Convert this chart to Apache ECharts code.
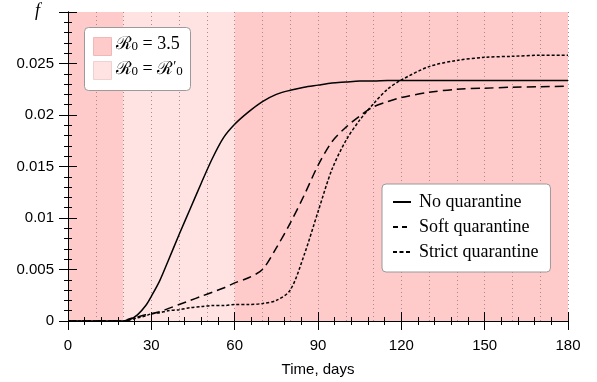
<!DOCTYPE html>
<html>
<head>
<meta charset="utf-8">
<script src="https://cdn.jsdelivr.net/npm/echarts@6/dist/echarts.min.js"></script>
<style>
  html, body { margin: 0; padding: 0; background: #fff; }
  #chart { width: 597px; height: 382px; }
</style>
</head>
<body>
<div id="chart"></div>
<script>
// time axis (days) and fraction f for each scenario
const days = [0, 20, 22, 25, 28, 30, 33, 36, 40, 44, 48, 52, 56, 60, 65, 70, 75, 80, 85, 90, 95, 100, 105, 110, 115, 120, 130, 140, 150, 160, 170, 180]
const noQuarantine = [0, 0, 0.0001, 0.0006, 0.0015, 0.0024, 0.0039, 0.0058, 0.0084, 0.0109, 0.0134, 0.0158, 0.0178, 0.0191, 0.0203, 0.0213, 0.0220, 0.0224, 0.0227, 0.0229, 0.0231, 0.0232, 0.0233, 0.0233, 0.02335, 0.02335, 0.02335, 0.02335, 0.02335, 0.02335, 0.02335, 0.02335]
const softQuarantine = [0, 0, 0.0002, 0.0004, 0.0006, 0.0007, 0.0009, 0.0012, 0.0016, 0.0020, 0.0024, 0.0028, 0.0032, 0.0037, 0.0042, 0.0050, 0.0071, 0.0095, 0.0122, 0.0151, 0.0174, 0.0188, 0.0199, 0.0208, 0.0213, 0.0217, 0.0222, 0.0225, 0.0226, 0.0227, 0.02275, 0.0228]
const strictQuarantine = [0, 0, 0.0001, 0.0003, 0.0005, 0.0007, 0.0008, 0.0010, 0.0011, 0.0013, 0.0014, 0.0015, 0.0015, 0.0016, 0.0016, 0.0017, 0.0020, 0.0030, 0.0064, 0.0106, 0.0147, 0.0175, 0.0195, 0.0211, 0.0225, 0.0234, 0.0247, 0.0253, 0.0256, 0.0257, 0.0258, 0.0258]

const seriesNames = ["No quarantine", "Soft quarantine", "Strict quarantine"]
// R0 phases: [start, end, kind]
const phases = [[0, 20, "base"], [20, 60, "reduced"], [60, 180, "base"]]

const darkPink = "#ffcaca"
const lightPink = "#ffe3e3"
const serif = "'Liberation Serif', 'DejaVu Serif', serif"
const sans = "'Liberation Sans', Arial, sans-serif"

const chart = echarts.init(document.getElementById("chart"), null, { renderer: "canvas" })

const pts = (arr) => days.map((d, i) => [d, arr[i]])

const axisLine = { show: true, lineStyle: { color: "#000", width: 1 } }
const tickStyle = { show: true, length: 9, lineStyle: { color: "#000", width: 1 } }
const minorTick = { show: true, length: 4, lineStyle: { color: "#000", width: 1 } }

const lineSeries = (name, arr, type) => ({
  name,
  type: "line",
  data: pts(arr),
  showSymbol: false,
  symbol: "none",
  smooth: 0.3,
  z: 3,
  itemStyle: { color: "#000" },
  lineStyle: { color: "#000", width: 1.5, type },
})

const first = lineSeries(seriesNames[0], noQuarantine, "solid")
first.markArea = {
  silent: true,
  z: 1,
  data: phases.map(([a, b, kind]) => [
    { xAxis: a, itemStyle: { color: kind === "base" ? darkPink : lightPink, opacity: 1 } },
    { xAxis: b },
  ]),
}

const richR0 = {
  r: { fontFamily: serif, fontSize: 18, fill: "#000", verticalAlign: "bottom" },
  p: { fontFamily: serif, fontSize: 14, fill: "#000", verticalAlign: "top" },
  s: { fontFamily: serif, fontSize: 13, fill: "#000", verticalAlign: "bottom" },
}

chart.setOption({
  animation: false,
  grid: { left: 68, right: 29, top: 12, bottom: 61 },
  xAxis: [
    {
      type: "value", position: "bottom", min: 0, max: 180, interval: 30, z: 4,
      axisLine, axisTick: tickStyle, minorTick: { ...minorTick, splitNumber: 5 },
      splitLine: { show: false },
      axisLabel: { color: "#000", fontFamily: sans, fontSize: 15, margin: 17 },
      name: "Time, days", nameLocation: "middle", nameGap: 41,
      nameTextStyle: { color: "#000", fontFamily: sans, fontSize: 15 },
    },
    {
      type: "value", position: "top", min: 0, max: 180, interval: 30, z: 4,
      axisLine, axisTick: tickStyle, minorTick: { ...minorTick, splitNumber: 5 },
      splitLine: { show: false }, axisLabel: { show: false },
    },
    {
      // dotted vertical grid every 10 days
      type: "value", position: "bottom", min: 0, max: 180, interval: 10, z: 2,
      axisLine: { show: false }, axisTick: { show: false }, axisLabel: { show: false },
      splitLine: { show: true, lineStyle: { color: "#a88c8c", width: 1, type: [1, 3] } },
    },
  ],
  yAxis: [
    {
      type: "value", position: "left", min: 0, max: 0.03, interval: 0.005, z: 4,
      axisLine, axisTick: tickStyle, minorTick: { ...minorTick, splitNumber: 5 },
      splitLine: { show: false },
      axisLabel: {
        color: "#000", fontFamily: sans, fontSize: 15, margin: 14,
        formatter: (v) => (v > 0.0299 ? "" : String(Number(v.toFixed(3)))),
      },
    },
    {
      type: "value", position: "right", min: 0, max: 0.03, interval: 0.005, z: 4,
      axisLine, axisTick: tickStyle, minorTick: { ...minorTick, splitNumber: 5 },
      splitLine: { show: false }, axisLabel: { show: false },
    },
  ],
  legend: {
    orient: "vertical",
    left: 382, top: 184,
    padding: [9, 12, 11, 10],
    itemGap: 7,
    itemWidth: 18, itemHeight: 12,
    backgroundColor: "#fff",
    borderColor: "#9a9a9a", borderWidth: 1, borderRadius: 4,
    itemStyle: { opacity: 0 },
    textStyle: { color: "#000", fontFamily: serif, fontSize: 18, padding: [0, 0, 0, 3] },
    data: [
      { name: seriesNames[0] },
      { name: seriesNames[1], lineStyle: { type: [5, 4] } },
      { name: seriesNames[2], lineStyle: { type: [4, 2.5] } },
    ],
  },
  series: [
    first,
    lineSeries(seriesNames[1], softQuarantine, [9, 5]),
    lineSeries(seriesNames[2], strictQuarantine, [3, 2]),
  ],
  graphic: [
    {
      type: "text", left: 35, top: 2, z: 10,
      style: { text: "f", font: "italic 18px " + serif, fill: "#000" },
    },
    {
      type: "group", left: 84, top: 27, z: 10,
      children: [
        {
          type: "rect", z: 10, shape: { x: 0, y: 0, width: 106, height: 63, r: 4 },
          style: { fill: "#fff", stroke: "#9a9a9a", lineWidth: 1 },
        },
        {
          type: "rect", z: 11, shape: { x: 9, y: 10, width: 18, height: 18 },
          style: { fill: darkPink, stroke: "#f2b8b8", lineWidth: 1 },
        },
        {
          type: "rect", z: 11, shape: { x: 9, y: 34, width: 18, height: 18 },
          style: { fill: lightPink, stroke: "#f0d0d0", lineWidth: 1 },
        },
        {
          type: "text", z: 11, x: 31, y: 8,
          style: { text: "{r|ℛ}{s|0}{r| = 3.5}", rich: richR0 },
        },
        {
          type: "text", z: 11, x: 31, y: 33,
          style: { text: "{r|ℛ}{s|0}{r| = ℛ}{p|′}{s|0}", rich: richR0 },
        },
      ],
    },
  ],
})
</script>
</body>
</html>
